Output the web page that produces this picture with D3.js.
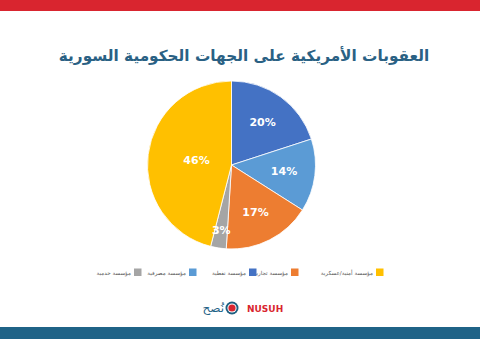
<!DOCTYPE html>
<html><head><meta charset="utf-8">
<script src="https://cdn.jsdelivr.net/npm/d3@7"></script>
<style>html,body{margin:0;padding:0;background:#fff;}svg{display:block;}</style>
</head><body>
<script>
const categories = ["مؤسسة نفطية","مؤسسة مصرفية","مؤسسة تجارية","مؤسسة خدمية","مؤسسة أمنية/عسكرية"];
const values = [20,14,17,3,46];
const colors = ["#4472c4","#5b9bd5","#ed7d31","#a5a5a5","#ffc000"];
const legendOrder = ["مؤسسة أمنية/عسكرية","مؤسسة تجارية","مؤسسة نفطية","مؤسسة مصرفية","مؤسسة خدمية"];
const title = "العقوبات الأمريكية على الجهات الحكومية السورية";

const W=480,H=339;
const svg=d3.select("body").append("svg").attr("width",W).attr("height",H);
svg.append("rect").attr("width",W).attr("height",H).attr("fill","#fff");
svg.append("rect").attr("x",0).attr("y",0).attr("width",W).attr("height",11).attr("fill","#d9252f");
svg.append("rect").attr("x",0).attr("y",327).attr("width",W).attr("height",12).attr("fill","#1f6387");

svg.append("text").attr("x",244).attr("y",61).attr("text-anchor","middle")
  .attr("font-family","DejaVu Sans").attr("font-weight","bold").attr("font-size",15.3)
  .attr("fill","#2a6184").attr("direction","rtl").text(title);

const color=d3.scaleOrdinal().domain(categories).range(colors);
const pie=d3.pie().sort(null).value(d=>d.v);
const data=categories.map((c,i)=>({c,v:values[i]}));
const arcs=pie(data);
const r=84;
const g=svg.append("g").attr("transform","translate(231.5,165)");
const arc=d3.arc().innerRadius(0).outerRadius(r);
g.selectAll("path").data(arcs).join("path").attr("d",arc).attr("fill",d=>color(d.data.c))
  .attr("stroke","#fff").attr("stroke-width",0.8);
function labelR(d){ return d.data.v<5 ? r*0.78 : (d.data.v>40 ? r*0.42 : r*0.63); }
g.selectAll("text.l").data(arcs).join("text").attr("class","l")
  .attr("transform",d=>{
    const rr=labelR(d);
    const a=(d.startAngle+d.endAngle)/2;
    return `translate(${Math.sin(a)*rr},${-Math.cos(a)*rr})`;})
  .attr("text-anchor","middle").attr("dy","0.35em")
  .attr("font-family","DejaVu Sans").attr("font-weight","bold").attr("font-size",11)
  .attr("fill","#fff").text(d=>d.data.v+"%");

// legend
const legX=[376,291,249,189,134];
const lg=svg.append("g");
legendOrder.forEach((c,i)=>{
  lg.append("rect").attr("x",legX[i]).attr("y",268.5).attr("width",7.5).attr("height",7.5).attr("fill",color(c));
  lg.append("text").attr("x",legX[i]-3).attr("y",275).attr("text-anchor","end")
    .attr("font-family","DejaVu Sans").attr("font-size",5.6).attr("fill","#595959")
    .text(c);
});

// logo
const lgo=svg.append("g").attr("transform","translate(232,308)");
lgo.append("circle").attr("r",6.5).attr("fill","#1f5f80");
lgo.append("circle").attr("r",4.6).attr("fill","#fff");
lgo.append("circle").attr("r",3.6).attr("fill","#d9252f");
svg.append("text").attr("x",247).attr("y",312).attr("font-family","DejaVu Sans").attr("font-weight","bold")
  .attr("font-size",9).attr("fill","#d9252f").text("NUSUH");
svg.append("text").attr("x",224).attr("y",312).attr("text-anchor","end").attr("font-family","DejaVu Sans")
  .attr("font-size",12).attr("fill","#1f6387").text("نُصح");
</script>
</body></html>
